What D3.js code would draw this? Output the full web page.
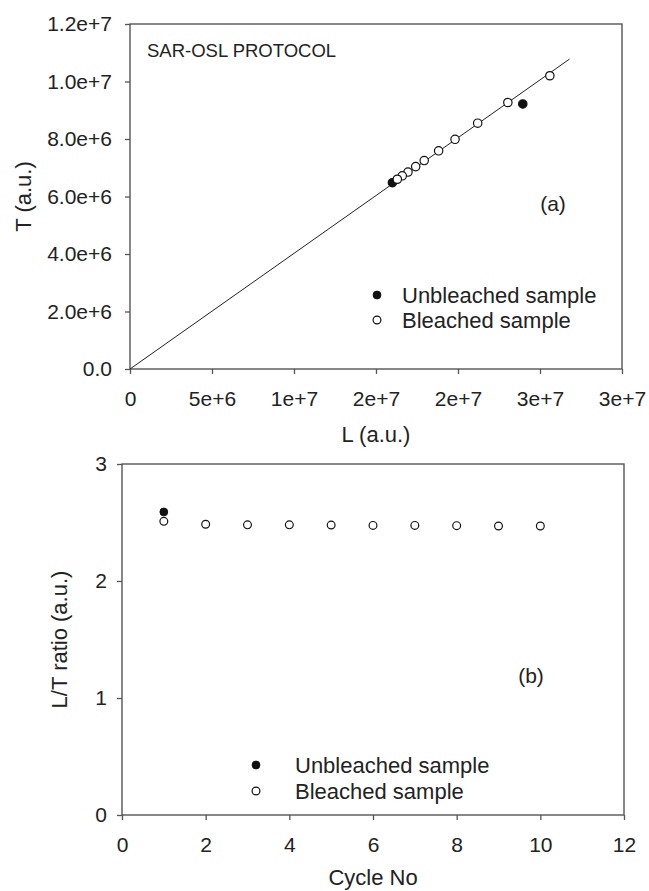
<!DOCTYPE html>
<html><head><meta charset="utf-8">
<script src="https://cdn.jsdelivr.net/npm/d3@7"></script>
<style>
html,body{margin:0;padding:0;background:#fff;}
svg text{font-family:"Liberation Sans",Arial,sans-serif;fill:#222;}
</style></head>
<body>
<svg id="c" width="649" height="891"></svg>
<script>
// ---- Panel (a) data: L and T (a.u.)
const bleachedL = [25.6e6, 23.04e6, 21.2e6, 19.82e6, 18.82e6, 17.94e6, 17.42e6, 16.95e6, 16.6e6, 16.3e6];
const bleachedT = [10.2e6, 9.27e6, 8.55e6, 7.99e6, 7.59e6, 7.25e6, 7.04e6, 6.85e6, 6.72e6, 6.6e6];
const unbleachedL = [23.95e6, 16.0e6];
const unbleachedT = [9.22e6, 6.48e6];
const fitLineL = [0, 26.8e6];
const fitLineT = [0, 10.78e6];
const aXTicks = [0, 5e6, 10e6, 15e6, 20e6, 25e6, 30e6];
const aXTickLabels = ["0", "5e+6", "1e+7", "2e+7", "2e+7", "3e+7", "3e+7"];
const aYTicks = [0, 2e6, 4e6, 6e6, 8e6, 10e6, 12e6];
const aYTickLabels = ["0.0", "2.0e+6", "4.0e+6", "6.0e+6", "8.0e+6", "1.0e+7", "1.2e+7"];

// ---- Panel (b) data: L/T ratio per cycle
const cycles = [1, 2, 3, 4, 5, 6, 7, 8, 9, 10];
const bleachedRatio = [2.51, 2.485, 2.48, 2.48, 2.478, 2.475, 2.475, 2.473, 2.47, 2.47];
const unbleachedCycles = [1];
const unbleachedRatio = [2.59];
const bXTicks = [0, 2, 4, 6, 8, 10, 12];
const bYTicks = [0, 1, 2, 3];

const legendLabels = ["Unbleached sample", "Bleached sample"];

const svg = d3.select("#c");
const axisColor = "#555";
const R = 3.9;
const FONT = '"Liberation Sans",Arial,sans-serif';

function frame(g, x0, x1, y0, y1) {
  g.append("rect").attr("x", x0).attr("y", y0).attr("width", x1 - x0).attr("height", y1 - y0)
    .attr("fill", "none").attr("stroke", axisColor).attr("stroke-width", 1.4);
}
function styleAxis(sel) {
  sel.select(".domain").remove();
  sel.selectAll(".tick line").attr("stroke", axisColor).attr("stroke-width", 1.3);
  sel.selectAll(".tick text").attr("fill", "#222").style("font-size", "21px").style("font-family", FONT);
}

// ================= Panel (a)
{
  const x0 = 130, x1 = 622, y0 = 24, y1 = 369;
  const x = d3.scaleLinear().domain([0, 30e6]).range([x0, x1]);
  const y = d3.scaleLinear().domain([0, 12e6]).range([y1, y0]);
  const g = svg.append("g");
  frame(g, x0, x1, y0, y1);
  const ax = g.append("g").attr("transform", `translate(0,${y1})`)
    .call(d3.axisBottom(x).tickValues(aXTicks).tickSize(5).tickPadding(17)
      .tickFormat((d, i) => aXTickLabels[i]));
  styleAxis(ax);
  const ay = g.append("g").attr("transform", `translate(${x0},0)`)
    .call(d3.axisLeft(y).tickValues(aYTicks).tickSize(5).tickPadding(13)
      .tickFormat((d, i) => aYTickLabels[i]));
  styleAxis(ay);

  g.append("line").attr("x1", x(fitLineL[0])).attr("y1", y(fitLineT[0]))
    .attr("x2", x(fitLineL[1])).attr("y2", y(fitLineT[1]))
    .attr("stroke", "#222").attr("stroke-width", 1);

  const ub = unbleachedL.map((v, i) => [v, unbleachedT[i]]);
  const bl = bleachedL.map((v, i) => [v, bleachedT[i]]);
  g.selectAll(".ub").data(ub).join("circle").attr("cx", d => x(d[0])).attr("cy", d => y(d[1]))
    .attr("r", R + 0.3).attr("fill", "#111").attr("stroke", "#111").attr("stroke-width", 1.2);
  g.selectAll(".bl").data(bl).join("circle").attr("cx", d => x(d[0])).attr("cy", d => y(d[1]))
    .attr("r", R + 0.3).attr("fill", "#fff").attr("stroke", "#111").attr("stroke-width", 1.2);

  g.append("text").attr("x", 147).attr("y", 57).style("font-size", "18.5px").text("SAR-OSL PROTOCOL");
  g.append("text").attr("x", 553).attr("y", 211).attr("text-anchor", "middle").style("font-size", "21px").text("(a)");

  // legend
  const ly = [295, 320];
  g.append("circle").attr("cx", 377).attr("cy", ly[0]).attr("r", R).attr("fill", "#111").attr("stroke", "#111");
  g.append("circle").attr("cx", 377).attr("cy", ly[1]).attr("r", R).attr("fill", "#fff").attr("stroke", "#111").attr("stroke-width", 1.2);
  legendLabels.forEach((t, i) => g.append("text").attr("x", 402).attr("y", ly[i] + 8).style("font-size", "22px").text(t));

  g.append("text").attr("x", (x0 + x1) / 2).attr("y", 442).attr("text-anchor", "middle").style("font-size", "22px").text("L (a.u.)");
  g.append("text").attr("transform", `translate(31,${(y0 + y1) / 2}) rotate(-90)`).attr("text-anchor", "middle")
    .style("font-size", "22px").text("T (a.u.)");
}

// ================= Panel (b)
{
  const x0 = 122, x1 = 624, y0 = 464, y1 = 815;
  const x = d3.scaleLinear().domain([0, 12]).range([x0, x1]);
  const y = d3.scaleLinear().domain([0, 3]).range([y1, y0]);
  const g = svg.append("g");
  frame(g, x0, x1, y0, y1);
  const ax = g.append("g").attr("transform", `translate(0,${y1})`)
    .call(d3.axisBottom(x).tickValues(bXTicks).tickSize(5).tickPadding(17).tickFormat(d3.format("d")));
  styleAxis(ax);
  const ay = g.append("g").attr("transform", `translate(${x0},0)`)
    .call(d3.axisLeft(y).tickValues(bYTicks).tickSize(5).tickPadding(10).tickFormat(d3.format("d")));
  styleAxis(ay);

  g.selectAll(".ub").data(unbleachedCycles.map((c, i) => [c, unbleachedRatio[i]])).join("circle")
    .attr("cx", d => x(d[0])).attr("cy", d => y(d[1])).attr("r", R).attr("fill", "#111").attr("stroke", "#111");
  g.selectAll(".bl").data(cycles.map((c, i) => [c, bleachedRatio[i]])).join("circle")
    .attr("cx", d => x(d[0])).attr("cy", d => y(d[1])).attr("r", R).attr("fill", "#fff").attr("stroke", "#111").attr("stroke-width", 1.2);

  g.append("text").attr("x", 531).attr("y", 683).attr("text-anchor", "middle").style("font-size", "21px").text("(b)");

  const ly = [765, 791];
  g.append("circle").attr("cx", 256).attr("cy", ly[0]).attr("r", R).attr("fill", "#111").attr("stroke", "#111");
  g.append("circle").attr("cx", 256).attr("cy", ly[1]).attr("r", R).attr("fill", "#fff").attr("stroke", "#111").attr("stroke-width", 1.2);
  legendLabels.forEach((t, i) => g.append("text").attr("x", 295).attr("y", ly[i] + 8).style("font-size", "22px").text(t));

  g.append("text").attr("x", (x0 + x1) / 2).attr("y", 885).attr("text-anchor", "middle").style("font-size", "22px").text("Cycle No");
  g.append("text").attr("transform", `translate(67,${(y0 + y1) / 2}) rotate(-90)`).attr("text-anchor", "middle")
    .style("font-size", "22px").text("L/T ratio (a.u.)");
}
</script>
</body></html>
